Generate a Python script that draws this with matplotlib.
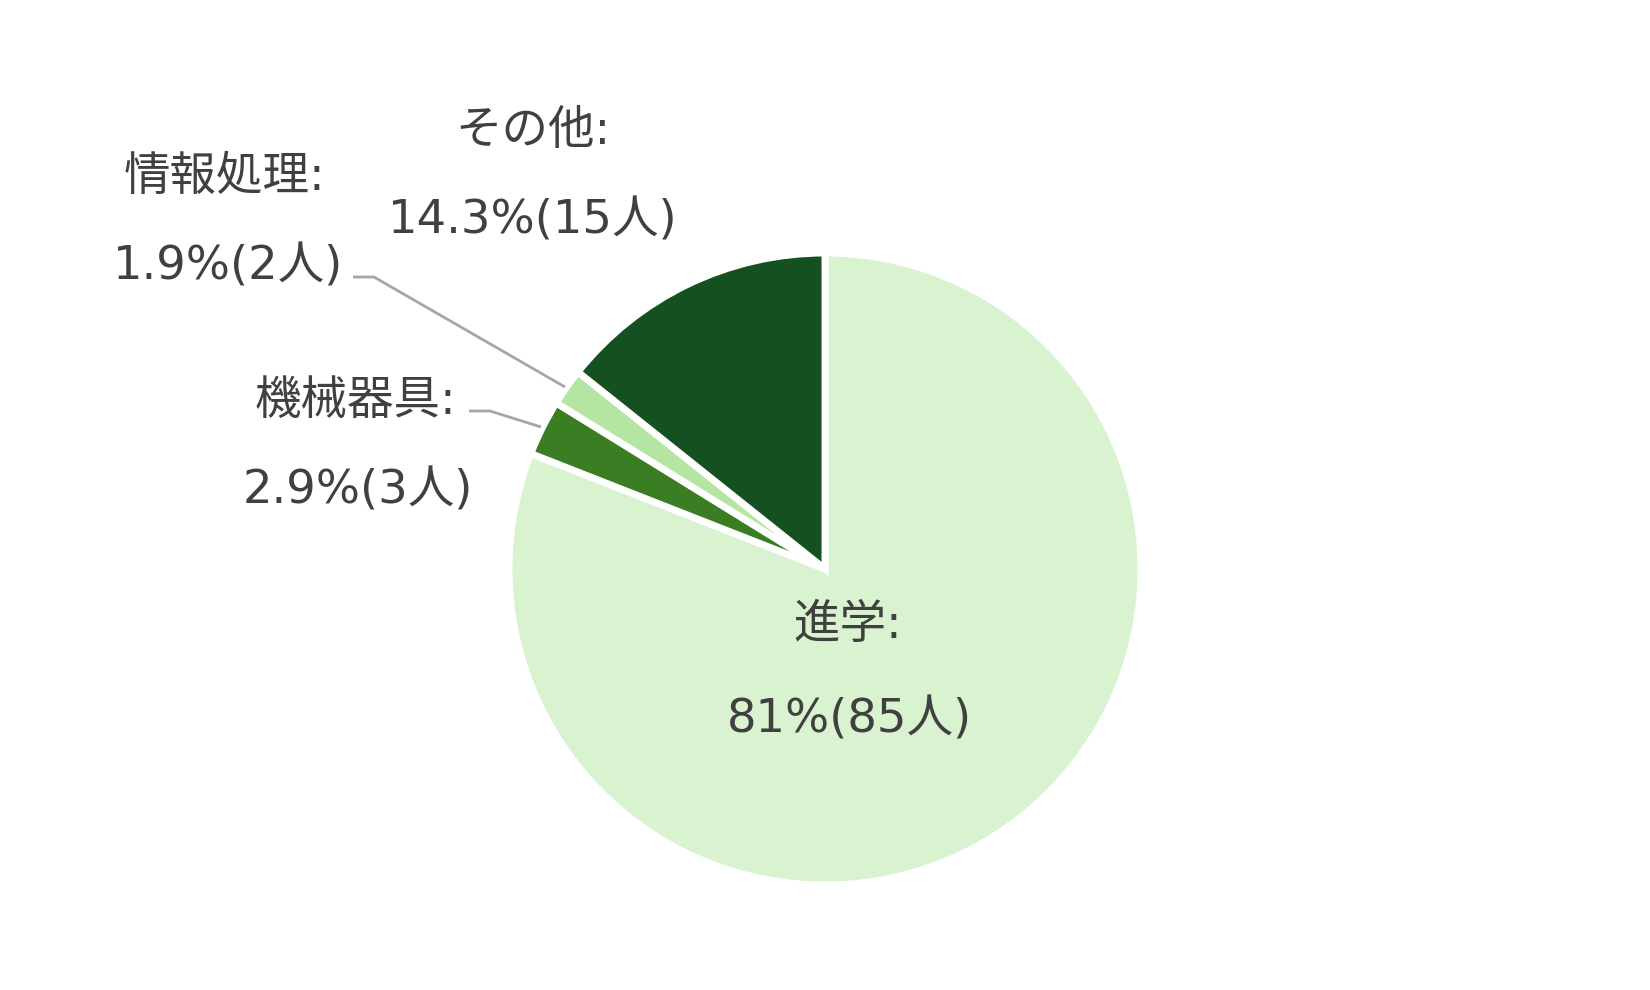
import matplotlib
matplotlib.use("Agg")
import matplotlib.pyplot as plt

# ---- data ----
categories = ["進学", "機械器具", "情報処理", "その他"]
counts = [85, 3, 2, 15]
colors = ["#d9f2d0", "#3b7d23", "#b4e5a2", "#155020"]

# ---- layout (image pixel coordinates, y downward) ----
W, H = 1650, 990
center_px = (825, 569)
radius_px = 316
label_pos = {
    "進学": ((848, 625), (849, 720)),
    "機械器具": ((355, 401), (358, 491)),
    "情報処理": ((225, 177), (228, 267)),
    "その他": ((533, 131), (533, 221)),
}
leaders = {
    "情報処理": [(353, 277), (374, 277), (565, 387)],
    "機械器具": [(469, 411), (490, 411), (541, 427)],
}

def Y(y):
    return H - y

fig = plt.figure(figsize=(W / 100, H / 100), dpi=100)
ax = fig.add_axes([0, 0, 1, 1])

ax.pie(counts, colors=colors, startangle=90, counterclock=False,
       center=(center_px[0], Y(center_px[1])), radius=radius_px,
       wedgeprops=dict(edgecolor="white", linewidth=5))
ax.set_xlim(0, W)
ax.set_ylim(0, H)
ax.set_aspect("equal")
ax.axis("off")

total = sum(counts)
fam = ["DejaVu Sans", "Noto Sans CJK JP"]
tc = "#404040"
fs = 33.5
for cat, n in zip(categories, counts):
    pct = round(n / total * 100, 1)
    ps = f"{pct:.1f}".rstrip("0").rstrip(".")
    (x1, y1), (x2, y2) = label_pos[cat]
    ax.text(x1, Y(y1), f"{cat}:", ha="center", va="center", fontsize=fs,
            color=tc, family=fam)
    ax.text(x2, Y(y2), f"{ps}%({n}人)", ha="center", va="center", fontsize=fs,
            color=tc, family=fam)

for cat, pts in leaders.items():
    xs = [p[0] for p in pts]
    ys = [Y(p[1]) for p in pts]
    ax.plot(xs, ys, color="#a6a6a6", linewidth=2.0, solid_capstyle="butt")

fig.savefig("out.png", dpi=100, facecolor="white")
